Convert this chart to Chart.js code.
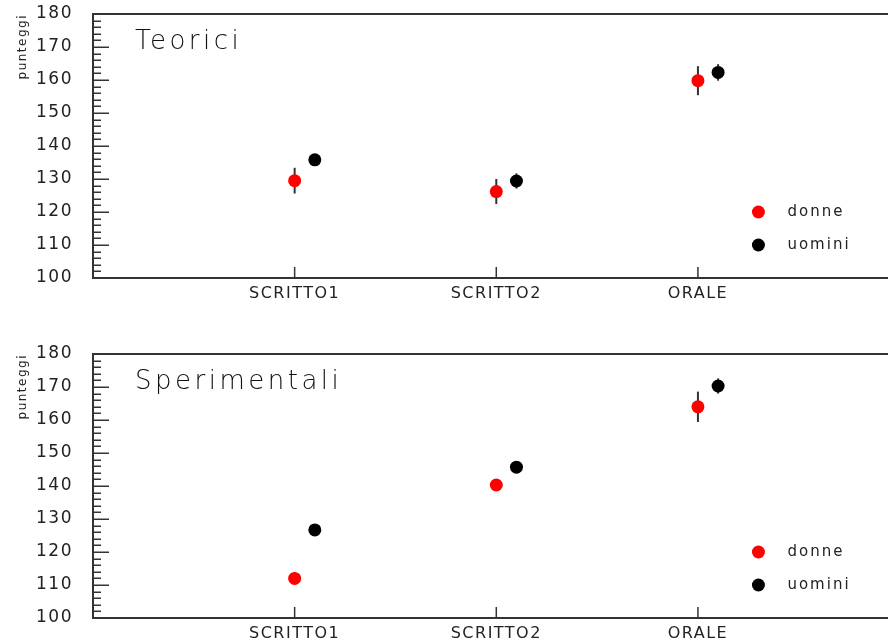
<!DOCTYPE html>
<html>
<head>
<meta charset="utf-8">
<script src="https://cdn.jsdelivr.net/npm/chart.js@4.4.1/dist/chart.umd.min.js"></script>
<style>
  html, body { margin: 0; padding: 0; background: #fff; overflow: hidden; }
  canvas { display: block; }
</style>
</head>
<body>
<canvas id="teoriciChart" width="896" height="320"></canvas>
<canvas id="sperimChart" width="896" height="321"></canvas>
<script>
// categories on the x axis
const categories = ['SCRITTO1', 'SCRITTO2', 'ORALE'];
const seriesNames = ['donne', 'uomini'];

// Teorici panel (mean score and error)
const teoriciDonne = [129.5, 126.2, 159.8];
const teoriciDonneErr = [3.9, 3.8, 4.4];
const teoriciUomini = [135.8, 129.4, 162.3];
const teoriciUominiErr = [0.8, 2.3, 2.5];

// Sperimentali panel
const sperimDonne = [112.0, 140.3, 164.0];
const sperimDonneErr = [1.8, 0.8, 4.6];
const sperimUomini = [126.7, 145.7, 170.3];
const sperimUominiErr = [0.8, 0.8, 2.3];

const FRAME = '#333';

// vertical error bars drawn under the markers
const errorBars = {
  id: 'errorBars',
  beforeDatasetsDraw(chart) {
    const { ctx, scales: { x, y } } = chart;
    ctx.save();
    ctx.strokeStyle = FRAME;
    ctx.lineWidth = 2;
    chart.data.datasets.forEach(ds => {
      ds.data.forEach(p => {
        const px = x.getPixelForValue(p.x);
        ctx.beginPath();
        ctx.moveTo(px, y.getPixelForValue(p.y - p.err));
        ctx.lineTo(px, y.getPixelForValue(p.y + p.err));
        ctx.stroke();
      });
    });
    ctx.restore();
  }
};

// top border + ticks pointing into the plot
const frameTicks = {
  id: 'frameTicks',
  beforeDraw(chart) {
    chart.ctx.letterSpacing = '1.5px';
  },
  afterDraw(chart) {
    const { ctx, chartArea, scales: { x, y } } = chart;
    ctx.save();
    ctx.strokeStyle = FRAME;
    ctx.lineWidth = 2;
    ctx.beginPath();
    ctx.moveTo(chartArea.left - 1, chartArea.top);
    ctx.lineTo(chartArea.right, chartArea.top);
    ctx.stroke();
    ctx.lineWidth = 1.5;
    for (let v = y.min; v <= y.max; v += 2) {
      const py = Math.round(y.getPixelForValue(v)) + 0.25;
      const len = v % 10 === 0 ? 16 : 8;
      ctx.beginPath();
      ctx.moveTo(chartArea.left, py);
      ctx.lineTo(chartArea.left + len, py);
      ctx.stroke();
    }
    x.ticks.forEach(t => {
      const px = x.getPixelForValue(t.value);
      ctx.beginPath();
      ctx.moveTo(px, chartArea.bottom);
      ctx.lineTo(px, chartArea.bottom - 11);
      ctx.stroke();
    });
    ctx.restore();
  }
};

// panel title and legend inside the plot area
const panelText = {
  id: 'panelText',
  afterDraw(chart, args, opts) {
    const { ctx, chartArea, scales: { x, y } } = chart;
    ctx.save();
    ctx.textBaseline = 'middle';
    ctx.fillStyle = '#111';
    ctx.font = '200 26px "DejaVu Sans"';
    ctx.letterSpacing = '3.5px';
    ctx.fillText(opts.title, chartArea.left + 42, chartArea.top + 28);

    ctx.font = '15px "DejaVu Sans"';
    ctx.letterSpacing = '2px';
    chart.data.datasets.forEach((ds, i) => {
      const px = x.getPixelForValue(opts.legendX);
      const py = y.getPixelForValue(opts.legendY[i]);
      ctx.fillStyle = ds.backgroundColor;
      ctx.beginPath();
      ctx.arc(px, py, 6.5, 0, Math.PI * 2);
      ctx.fill();
      ctx.fillStyle = '#222';
      ctx.fillText(ds.label, px + 29, py);
    });
    ctx.restore();
  }
};

function points(values, errs, shift) {
  return categories.map((c, i) => ({ x: i + 1 + shift, y: values[i], err: errs[i] }));
}

function noPad(s) {
  s.paddingTop = 0;
  s.paddingBottom = 0;
  s.paddingLeft = 0;
  s.paddingRight = 0;
}

function makeChart(id, title, donne, donneErr, uomini, uominiErr, topPad, axisHeight) {
  return new Chart(document.getElementById(id), {
    type: 'scatter',
    data: {
      datasets: [
        {
          label: seriesNames[0],
          data: points(donne, donneErr, 0),
          backgroundColor: '#ff0000',
          borderColor: '#ff0000',
          pointRadius: 6.5,
          pointBorderWidth: 0
        },
        {
          label: seriesNames[1],
          data: points(uomini, uominiErr, 0.1),
          backgroundColor: '#000000',
          borderColor: '#000000',
          pointRadius: 6.5,
          pointBorderWidth: 0
        }
      ]
    },
    options: {
      responsive: false,
      animation: false,
      devicePixelRatio: 1,
      layout: { padding: { top: topPad, left: 0, right: 0, bottom: 0 } },
      plugins: {
        legend: { display: false },
        tooltip: { enabled: false },
        panelText: { title: title, legendX: 3.3, legendY: [120, 110] }
      },
      scales: {
        x: {
          type: 'linear',
          min: 0,
          max: 3.95,
          grid: { display: false, drawTicks: false },
          border: { display: true, color: FRAME, width: 2 },
          afterBuildTicks: s => { s.ticks = categories.map((c, i) => ({ value: i + 1 })); },
          afterFit: s => { s.height = axisHeight; noPad(s); },
          ticks: {
            autoSkip: false,
            maxRotation: 0,
            padding: 6,
            color: '#222',
            font: { family: 'DejaVu Sans', size: 16 },
            callback: v => categories[v - 1]
          }
        },
        y: {
          min: 100,
          max: 180,
          grid: { display: false, drawTicks: false },
          border: { display: true, color: FRAME, width: 2 },
          afterFit: s => { s.width = 93; noPad(s); },
          ticks: {
            stepSize: 10,
            padding: 20,
            color: '#222',
            font: { family: 'DejaVu Sans', size: 17 }
          },
          title: {
            display: true,
            text: 'punteggi',
            align: 'end',
            color: '#222',
            font: { family: 'DejaVu Sans', size: 12 },
            padding: { top: 16, bottom: 0 }
          }
        }
      }
    },
    plugins: [errorBars, frameTicks, panelText]
  });
}

makeChart('teoriciChart', 'Teorici', teoriciDonne, teoriciDonneErr, teoriciUomini, teoriciUominiErr, 14, 42);
makeChart('sperimChart', 'Sperimentali', sperimDonne, sperimDonneErr, sperimUomini, sperimUominiErr, 34, 23);
</script>
</body>
</html>
